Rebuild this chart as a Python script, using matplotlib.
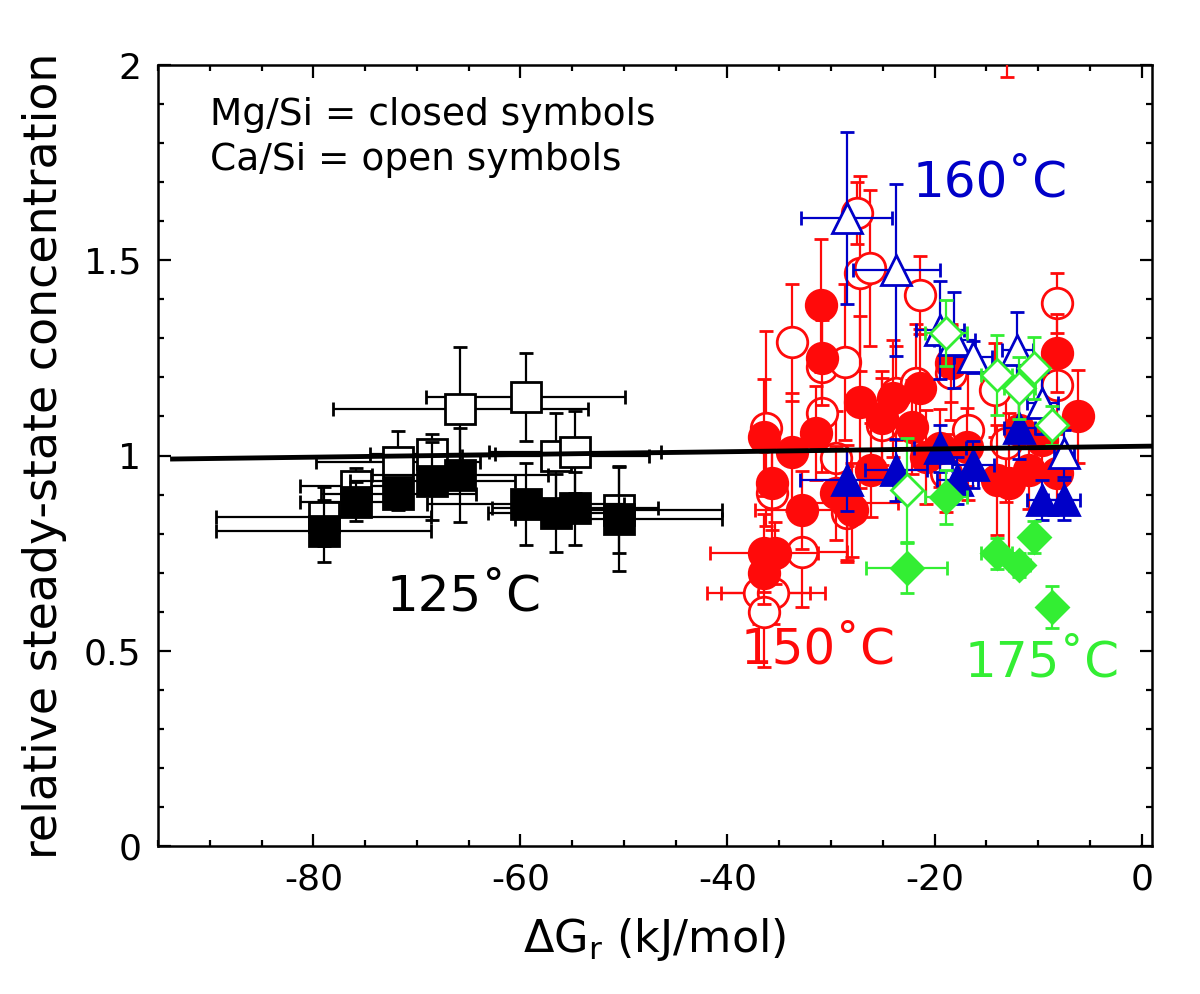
import numpy as np
import matplotlib
matplotlib.use("Agg")
from matplotlib import pyplot as plt
from matplotlib.ticker import MultipleLocator, FuncFormatter

# 125 C  (black squares)
mg125_x = [-79.0, -75.9, -71.8, -68.5, -65.8, -59.5, -56.6, -54.7, -50.5]
mg125_y = [0.807, 0.881, 0.901, 0.934, 0.950, 0.876, 0.853, 0.865, 0.838]
mg125_xerr = [10.4, 5.4, 7.5, 8.0, 8.5, 9.5, 6.5, 8.0, 10.0]
mg125_yerr = [0.08, 0.05, 0.04, 0.10, 0.12, 0.105, 0.10, 0.094, 0.135]

ca125_x = [-79.0, -75.9, -71.8, -68.5, -65.8, -59.5, -56.6, -54.7, -50.5]
ca125_y = [0.843, 0.922, 0.983, 1.004, 1.119, 1.150, 0.999, 1.009, 0.860]
ca125_xerr = [10.4, 5.4, 7.9, 6.0, 12.3, 9.6, 9.0, 8.3, 10.0]
ca125_yerr = [0.076, 0.046, 0.08, 0.05, 0.16, 0.112, 0.11, 0.105, 0.11]

# 150 C  (red circles)
mg150_x = [-36.5, -35.7, -36.5, -35.4, -36.5, -33.8, -32.8, -31.5, -31.0, -30.9,
           -29.5, -28.5, -28.0, -27.2, -26.1, -25.1, -24.0, -22.2, -21.4, -20.8,
           -19.5, -18.4, -16.9, -14.0, -12.8, -11.8, -10.9, -9.6, -8.2, -8.2, -6.1]
mg150_y = [1.047, 0.930, 0.750, 0.750, 0.699, 1.009, 0.860, 1.058, 1.385, 1.250,
           0.904, 0.878, 0.860, 1.137, 0.963, 1.096, 1.147, 1.073, 1.173, 0.996,
           1.020, 1.237, 1.022, 0.937, 0.930, 1.065, 0.963, 1.040, 0.955, 1.262, 1.100]
mg150_xerr = [0, 0, 5.2, 0, 0, 0, 4.5, 0, 0, 0,
              0, 5.0, 0, 0, 0, 0, 0, 0, 0, 0,
              0, 0, 0, 0, 0, 0, 0, 0, 0, 0, 0]
mg150_yerr = [0.15, 0.12, 0.10, 0.08, 0.08, 0.15, 0.10, 0.12, 0.17, 0.12,
              0.12, 0.15, 0.12, 0.22, 0.12, 0.12, 0.15, 0.12, 0.15, 0.12,
              0.10, 0.10, 0.10, 0.14, 0.18, 0.10, 0.10, 0.10, 0.10, 0.10, 0.12]

ca150_x = [-37.0, -35.6, -36.5, -36.3, -35.7, -33.75, -32.8, -30.9, -30.9, -29.5,
           -28.65, -28.5, -27.5, -27.2, -26.25, -25.1, -23.7, -21.8, -21.4, -18.9,
           -18.4, -16.8, -14.2, -13.1, -8.2, -8.2, -13.0]
ca150_y = [0.648, 0.648, 0.599, 1.070, 0.904, 1.290, 0.753, 1.227, 1.109, 0.994,
           1.240, 0.853, 1.621, 1.467, 1.480, 1.078, 1.160, 1.186, 1.411, 0.955,
           1.211, 1.065, 1.168, 1.032, 1.390, 1.180, 2.200]
ca150_xerr = [5.0, 5.0, 0, 0, 0, 0, 4.3, 0, 0, 0,
              0, 0, 0, 0, 0, 0, 0, 0, 0, 0,
              0, 0, 0, 0, 0, 0, 0]
ca150_yerr = [0.08, 0.08, 0.14, 0.25, 0.15, 0.15, 0.14, 0.12, 0.15, 0.12,
              0.20, 0.12, 0.08, 0.25, 0.20, 0.12, 0.12, 0.15, 0.10, 0.10,
              0.12, 0.18, 0.12, 0.15, 0.077, 0.10, 0.23]

# 160 C  (blue triangles)
mg160_x = [-28.5, -23.7, -19.5, -16.3, -17.8, -11.8, -9.6, -7.5]
mg160_y = [0.937, 0.963, 1.019, 0.976, 0.937, 1.070, 0.886, 0.886]
mg160_xerr = [4.5, 3.0, 2.5, 2.0, 2.0, 1.5, 1.5, 1.5]
mg160_yerr = [0.08, 0.08, 0.06, 0.06, 0.06, 0.08, 0.05, 0.05]

ca160_x = [-28.5, -23.7, -19.5, -18.1, -16.3, -12.0, -9.6, -7.5]
ca160_y = [1.608, 1.475, 1.321, 1.296, 1.252, 1.270, 1.134, 1.006]
ca160_xerr = [4.4, 4.2, 2.3, 2.0, 1.8, 1.5, 1.5, 1.0]
ca160_yerr = [0.22, 0.22, 0.125, 0.123, 0.04, 0.097, 0.08, 0.06]

# 175 C  (green diamonds)
mg175_x = [-22.7, -18.9, -14.0, -11.8, -10.4, -8.7]
mg175_y = [0.712, 0.894, 0.750, 0.720, 0.791, 0.612]
mg175_xerr = [3.9, 2.0, 1.5, 1.0, 0.8, 0]
mg175_yerr = [0.064, 0.07, 0.04, 0.03, 0.04, 0.055]

ca175_x = [-22.7, -18.9, -14.0, -11.8, -10.4, -8.7]
ca175_y = [0.912, 1.314, 1.206, 1.173, 1.224, 1.078]
ca175_xerr = [0, 2.0, 1.5, 1.5, 1.0, 0.8]
ca175_yerr = [0.134, 0.085, 0.103, 0.08, 0.08, 0.05]

# linear fit line
fit_x = [-93.6, 1.0]
fit_y = [0.991, 1.024]

RED = "#ff0a0a"
BLUE = "#0000c8"
GREEN = "#33ee33"

plt.rcParams['font.family'] = ['DejaVu Sans']
plt.rcParams['mathtext.fontset'] = 'dejavusans'

fig = plt.figure(figsize=(12, 9.94), dpi=100)
ax = fig.add_axes([0.1317, 0.1489, 0.8283, 0.7857])


def draw(x, y, xerr, yerr, color, marker, filled, z, ms=21):
    face = color if filled else "white"
    ax.errorbar(x, y, xerr=xerr, yerr=yerr, fmt=marker, ms=ms, mfc=face, mec=color,
                mew=2, ecolor=color, elinewidth=1.6, capsize=5, capthick=1.6,
                zorder=z, clip_on=True)


draw(ca125_x, ca125_y, ca125_xerr, ca125_yerr, "black", "s", False, 2)
draw(mg125_x, mg125_y, mg125_xerr, mg125_yerr, "black", "s", True, 3)
draw(ca150_x, ca150_y, ca150_xerr, ca150_yerr, RED, "o", False, 4, ms=22)
draw(mg150_x, mg150_y, mg150_xerr, mg150_yerr, RED, "o", True, 5, ms=22)
draw(ca160_x, ca160_y, ca160_xerr, ca160_yerr, BLUE, "^", False, 6, ms=21)
draw(mg160_x, mg160_y, mg160_xerr, mg160_yerr, BLUE, "^", True, 7, ms=21)
draw(ca175_x, ca175_y, ca175_xerr, ca175_yerr, GREEN, "D", False, 8, ms=16)
draw(mg175_x, mg175_y, mg175_xerr, mg175_yerr, GREEN, "D", True, 9, ms=16)

ax.plot(fit_x, fit_y, color="black", lw=3.5, zorder=10)

ax.set_xlim(-95, 1)
ax.set_ylim(0, 2)
ax.xaxis.set_major_locator(MultipleLocator(20))
ax.xaxis.set_minor_locator(MultipleLocator(5))
ax.yaxis.set_major_locator(MultipleLocator(0.5))
ax.yaxis.set_minor_locator(MultipleLocator(0.1))
ax.yaxis.set_major_formatter(FuncFormatter(lambda v, p: "%g" % v))
ax.xaxis.set_major_formatter(FuncFormatter(lambda v, p: "%g" % v))
ax.tick_params(which="both", direction="in", top=True, right=True, width=1.6)
ax.tick_params(which="major", length=9, labelsize=26, pad=12)
ax.tick_params(which="minor", length=4.5)
for s in ax.spines.values():
    s.set_linewidth(1.8)

ax.set_xlabel(r"$\Delta$G$_\mathrm{r}$ (kJ/mol)", fontsize=32, labelpad=14)
ax.set_ylabel("relative steady-state concentration", fontsize=33, labelpad=12)

ax.text(-90.0, 1.872, "Mg/Si = closed symbols", fontsize=27, va="center", zorder=11)
ax.text(-90.0, 1.757, "Ca/Si = open symbols", fontsize=27, va="center", zorder=11)
ax.text(-22.1, 1.698, "160˚C", fontsize=36, color=BLUE, va="center", zorder=11)
ax.text(-72.9, 0.638, "125˚C", fontsize=36, color="black", va="center", zorder=11)
ax.text(-38.75, 0.502, "150˚C", fontsize=36, color=RED, va="center", zorder=11)
ax.text(-17.1, 0.469, "175˚C", fontsize=36, color=GREEN, va="center", zorder=11)

fig.savefig("out.png", dpi=100)
